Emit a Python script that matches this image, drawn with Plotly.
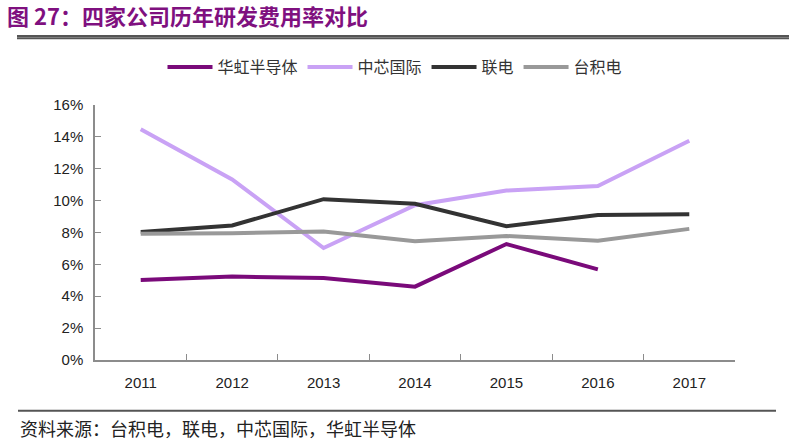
import plotly.graph_objects as go

years = ["2011", "2012", "2013", "2014", "2015", "2016", "2017"]
hua_hong = [0.0502, 0.0523, 0.0514, 0.0460, 0.0727, 0.0568, None]
smic = [0.1446, 0.1132, 0.0702, 0.0970, 0.1062, 0.1090, 0.1374]
umc = [0.0802, 0.0843, 0.1008, 0.0979, 0.0839, 0.0909, 0.0913]
tsmc = [0.0791, 0.0795, 0.0806, 0.0744, 0.0777, 0.0748, 0.0822]

names = ["华虹半导体", "中芯国际", "联电", "台积电"]
colors = ["#7a0a7a", "#c9a2f5", "#333333", "#999999"]
series = [hua_hong, smic, umc, tsmc]

fig = go.Figure()
for n, c, s in zip(names, colors, series):
    fig.add_trace(go.Scatter(x=years, y=s, name=n, mode="lines",
                             line=dict(color=c, width=4), connectgaps=False))

cjk = "Noto Sans CJK SC"
fig.update_layout(
    width=790, height=441,
    paper_bgcolor="white", plot_bgcolor="white",
    margin=dict(l=95, r=55, t=103, b=81),
    font=dict(family="Liberation Sans, Arial", color="#222222", size=15),
    showlegend=True,
    legend=dict(orientation="h", xref="container", yref="container",
                x=0.5, xanchor="center", y=1 - 67 / 441, yanchor="middle",
                font=dict(family=cjk, size=16, color="#333333"),
                itemwidth=45, tracegroupgap=0, bgcolor="rgba(0,0,0,0)"),
    xaxis=dict(type="category", showgrid=False, showline=True, linecolor="#8c8c8c",
               linewidth=1.5, ticks="inside", tickson="boundaries", ticklen=6,
               tickcolor="#8c8c8c", tickfont=dict(size=15, color="#222222"),
               range=[-0.5, 6.5], zeroline=False, ticklabelstandoff=8),
    yaxis=dict(range=[0, 0.16], dtick=0.02, tickformat=".0%", showgrid=False,
               showline=True, linecolor="#8c8c8c", linewidth=1.5, ticks="inside",
               ticklen=6, tickcolor="#8c8c8c", zeroline=False,
               tickfont=dict(size=15, color="#222222"), ticklabelstandoff=7),
    title=dict(text="<b>图 27：四家公司历年研发费用率对比</b>", x=0.009, xanchor="left",
               xref="container", y=1 - 17 / 441, yanchor="middle",
               font=dict(family=cjk, size=22, color="#7f107f")),
)

# title rule (shape) and footer rule
fig.add_shape(type="rect", xref="paper", yref="paper",
              x0=(17 - 95) / 640, x1=(789 - 95) / 640,
              y0=(360 - 37) / 257, y1=(360 - 35) / 257,
              fillcolor="#555555", line=dict(width=0), layer="above")
fig.add_shape(type="line", xref="paper", yref="paper", x0=(18 - 95) / 640, x1=(776 - 95) / 640,
              y0=(360 - 411) / 257, y1=(360 - 411) / 257, line=dict(color="#555555", width=2))
fig.add_annotation(text="资料来源：台积电，联电，中芯国际，华虹半导体", xref="paper", yref="paper",
                   x=(18 - 95) / 640, xanchor="left", y=(360 - 428) / 257, yanchor="middle",
                   showarrow=False, font=dict(family=cjk, size=18, color="#222222"))

post = (
    "document.body.style.margin='0';"
    "var r=document.createElement('div');"
    "r.style.cssText='position:absolute;left:17px;top:35px;width:772px;height:2px;"
    "background:#555555;z-index:1000;pointer-events:none';"
    "document.body.appendChild(r);"
)
fig.write_html("out.html", config={"displayModeBar": False}, post_script=post)
